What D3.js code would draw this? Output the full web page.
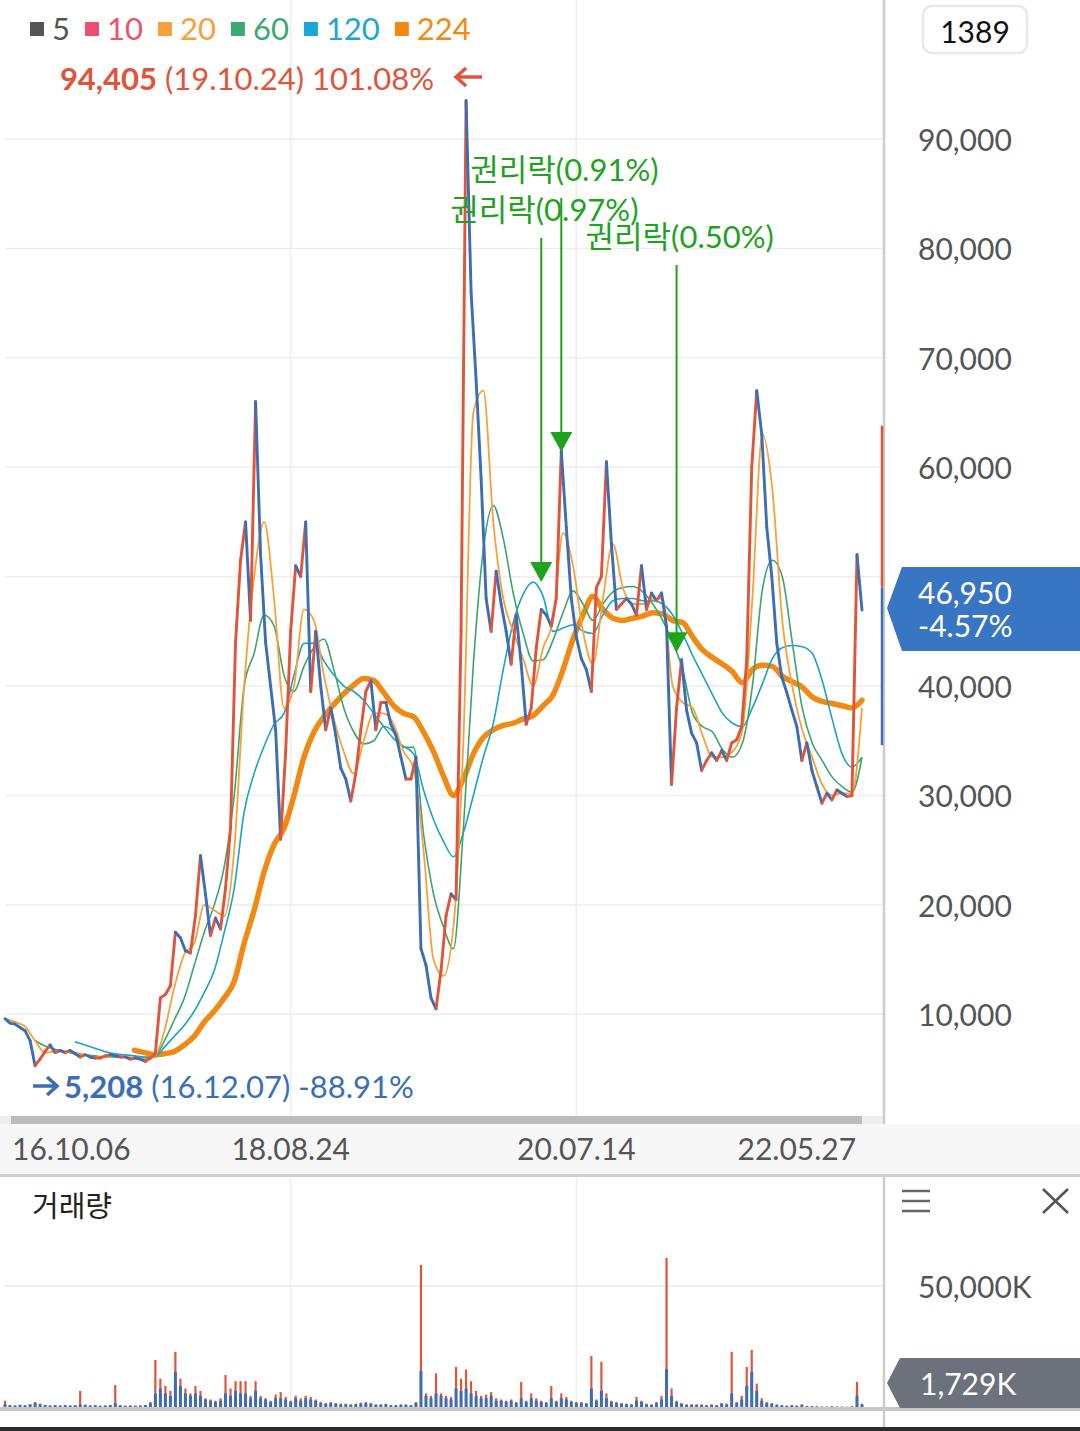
<!DOCTYPE html>
<html><head><meta charset="utf-8">
<script src="https://cdn.jsdelivr.net/npm/d3@7"></script>
<style>
html,body{margin:0;padding:0;background:#fff;}
svg{display:block;font-family:Lato,"Noto Sans CJK KR",sans-serif;}
</style></head><body>
<svg id="c" width="1080" height="1431"></svg>
<script>
// ---------------- DATA ----------------
const price = [
 9600,9200,9100,8800,8500,7600,5300,5900,6600,7200,
 6500,6700,6500,6700,6400,6100,6300,6100,6000,6000,
 6200,6300,6200,6100,6100,5900,6000,5900,5700,6000,
 6400,11500,11800,12600,17500,17000,15800,15600,19000,24500,
 21000,17200,18800,17800,21500,27000,44000,51500,55000,46000,
 66000,52000,44000,40000,36000,26000,34000,45000,51000,50000,
 55000,39500,45000,40000,36000,38000,35500,32500,31500,29500,
 32000,36000,39500,40500,36000,38500,38500,36500,35500,33500,
 31500,31500,33500,16000,14500,11500,10500,14000,19000,21000,
 20500,45000,93500,76000,68000,59000,48000,45000,50500,47500,
 45000,42000,46500,42000,36500,38000,43500,47000,46500,45500,
 48000,61500,54500,48000,44500,42500,41500,39500,49000,50000,
 60500,53000,47000,47500,48000,47500,46500,51000,47000,48500,
 47800,48500,45400,31000,38000,42400,37800,35700,34800,32300,
 33200,33900,33200,34100,33200,34800,35100,36300,42400,60000,
 67000,63000,54500,50000,43900,40800,39400,37800,36300,33200,
 34800,32300,30800,29300,30200,29600,30500,30200,29900,30000,
 52000,46950
];
const volumeK = [
 3000,1200,1000,1300,1100,1500,2500,1800,1200,1000,
 1100,1000,1200,1000,1100,7000,1300,1000,1100,900,
 1000,1200,9400,1100,900,1000,900,1000,1200,2500,
 19700,12000,9000,7000,23000,12000,8000,6000,9000,7000,
 4000,3500,3000,4000,13500,8000,11000,11000,11000,5000,
 11000,5000,4000,3000,5500,6500,4500,3000,5000,4000,
 5000,4500,3500,2500,2000,2500,2000,1800,1800,1500,
 1800,2200,2500,2000,1500,1500,1800,1200,1200,1500,
 1500,1200,2500,58600,6000,5000,14200,6000,5000,4500,
 16800,12000,15800,11000,7000,5000,5500,6500,4000,3500,
 3000,3500,2500,10700,3000,6000,4000,3000,2500,9000,
 3000,6000,4500,3000,2500,2500,2000,21300,3500,18900,
 6000,3000,2500,2000,1800,1500,4500,3000,1800,1500,
 2500,5000,61500,8000,3000,2000,1500,1500,1500,1500,
 1200,1500,1200,2000,1800,23000,2500,5000,16800,23800,
 10000,4000,2500,2000,1500,1200,1000,1200,1000,1500,
 800,800,700,600,600,700,600,600,500,700,
 10700,1729
];
const volumeBlueK = [
 1500,1200,1000,1300,1100,1500,2000,1500,1200,1000,
 1100,1000,1200,1000,1100,1500,1300,1000,1100,900,
 1000,1200,2000,1100,900,1000,900,1000,1200,2000,
 6000,8000,6000,5000,14800,9000,6000,5000,6000,5000,
 3500,3000,2500,3000,6000,5000,7000,6000,6000,4000,
 7000,4000,3500,2500,4000,4000,3500,2500,4000,3000,
 4000,3500,3000,2000,1800,2000,1800,1500,1500,1300,
 1500,1800,2000,1800,1300,1300,1500,1100,1100,1300,
 1300,1100,2000,15200,5000,4000,6000,5000,4000,3500,
 8000,7000,8000,6000,5000,4000,4000,5000,3000,3000,
 2500,3000,2000,4000,2500,4000,3000,2500,2000,4000,
 2500,4000,3500,2500,2000,2000,1800,8000,3000,7000,
 4000,2500,2000,1800,1500,1300,3000,2500,1500,1300,
 2000,3500,16000,5000,2500,1800,1300,1300,1300,1300,
 1100,1300,1100,1800,1500,6000,2000,3500,9000,14800,
 7000,3000,2000,1800,1300,1100,900,1100,900,1300,
 700,700,600,500,500,600,500,500,450,600,
 5000,1500
];
const ma20 = [
 9600,9300,8900,7600,6500,6600,6600,6500,6300,6100,
 6100,6200,6100,6000,5900,6100,8500,12500,15500,16500,
 20000,19500,19000,25000,40000,50000,55000,48000,38000,40000,
 47000,46000,41000,37000,34000,32000,35000,37500,37500,36500,
 34000,32500,25000,15000,13500,18000,35000,65000,67000,55000,
 48000,45000,42500,40000,43500,46000,54000,51000,45000,42000,
 48000,53000,49000,47500,47500,48000,48000,40000,38500,38000,
 35500,33500,33500,34000,36000,48000,63000,58000,46000,40000,
 36000,33500,31000,30000,30200,30200,38000
];
const ma60 = [
 null,null,null,7600,7100,6800,6600,6400,6300,6200,
 6100,6100,6100,6000,6000,6100,7600,9500,11500,14500,
 17500,20000,23500,30000,40000,43000,46500,45500,41000,39500,
 41800,43500,44300,41500,38000,35800,34700,35000,36300,35800,
 34400,34400,26500,21000,18000,16000,27000,42000,52500,56500,
 53500,48500,44800,42300,42400,44200,46700,48700,47500,46000,
 47500,48600,49000,49100,48600,47500,46000,44000,41500,37500,
 36300,35800,34200,33500,34800,40000,48800,51500,50000,44000,
 38000,34800,33200,31700,30800,30300,33500
];
const ma120 = [
 null,null,null,null,null,null,null,7500,7200,6900,
 6600,6400,6300,6200,6100,6100,7000,8000,9000,10300,
 12000,14000,17500,21500,28500,32000,34500,36500,37500,41000,
 43900,43900,42300,41000,40000,39500,38700,37500,36300,35200,
 34500,33800,30500,27800,25800,24400,26600,30000,33500,36600,
 41500,45800,48400,49500,48200,45000,45300,45600,45000,44800,
 46500,47800,48000,48000,47800,47800,47500,46500,44800,42800,
 41000,39200,37500,36600,36300,38000,40200,42500,43500,43700,
 43600,43000,40500,37000,33800,32600,33500
];
const ma224 = [
 null,null,null,null,null,null,null,null,null,null,
 null,null,null,6700,6500,6300,6400,6600,7200,8000,
 9300,10300,11500,13000,16500,19500,23000,25500,27000,30000,
 33500,35800,37200,38300,39300,40100,40700,40500,39400,38200,
 37500,37200,35800,34000,31800,30000,31500,33800,35300,36000,
 36400,36600,37000,37300,38200,39200,41500,44300,46500,48200,
 47000,46200,46000,46200,46400,46700,46600,46000,45800,44500,
 43300,42600,42000,41300,40300,41500,41900,41800,40900,40400,
 39900,39000,38600,38400,38200,38000,38700
];
const yTicks = [10000,20000,30000,40000,50000,60000,70000,80000,90000];
const volTicks = [50000];
const xTickLabels = ["16.10.06","18.08.24","20.07.14","22.05.27"];
const xTickIndex = [0,57,114,158];
const gridTickIndex = [57,114];
const legendLabels = ["5","10","20","60","120","224"];
const legendColors = ["#555555","#ee4f6e","#f6a13a","#3aaa72","#1aa7d3","#f08a12"];
const exRightsLabels = ["권리락(0.91%)","권리락(0.97%)","권리락(0.50%)"];
const exRightsIndex = [111,107,134];
const exRightsValue = [61400,49500,43100];
const maxInfo = {value:"94,405", date:"(19.10.24)", pct:"101.08%", index:92};
const minInfo = {value:"5,208", date:"(16.12.07)", pct:"-88.91%", index:6};
const lastPrice = "46,950", lastPct = "-4.57%", lastVolume = "1,729K";
const lastRange = {high:63800, mid:49000, low:34600};
const pageNo = "1389";

// ---------------- SCALES ----------------
const svg = d3.select("#c");
const plotRight = 884;
const x = d3.scaleLinear().domain([0, price.length-1]).range([5, 862]);
const xm = d3.scaleLinear().domain([0, ma20.length-1]).range([5, 862]);
const y = d3.scaleLinear().domain([0, 90000]).range([1123.7, 139]);
const yv = d3.scaleLinear().domain([0, 50000]).range([1408, 1286]);
const fmt = d3.format(",");
const RED = "#e0553a", BLUE = "#3d6db5";

function txt(g, px, py, s, o={}) {
  return g.append("text").attr("x",px).attr("y",py).text(s)
    .attr("font-size", o.size||30).attr("fill", o.fill||"#555")
    .attr("font-weight", o.weight||400).attr("text-anchor", o.anchor||"start")
    .attr("dominant-baseline", o.base||"auto");
}

// ---------------- BACKGROUND / GRID ----------------
svg.append("rect").attr("width",1080).attr("height",1431).attr("fill","#fff");
const defs = svg.append("defs");
defs.append("clipPath").attr("id","clipPlot").append("rect").attr("x",0).attr("y",0).attr("width",plotRight).attr("height",1116);
defs.append("clipPath").attr("id","clipVol").append("rect").attr("x",0).attr("y",1178).attr("width",plotRight).attr("height",231);

const grid = svg.append("g");
grid.selectAll("line.h").data(yTicks).join("line")
  .attr("x1",5).attr("x2",plotRight).attr("y1",d=>y(d)).attr("y2",d=>y(d))
  .attr("stroke","#ededed").attr("stroke-width",1.5);
grid.selectAll("line.v").data(gridTickIndex).join("line")
  .attr("x1",d=>x(d)).attr("x2",d=>x(d)).attr("y1",0).attr("y2",1116)
  .attr("stroke","#ededed").attr("stroke-width",1.5);
grid.selectAll("line.vv").data(gridTickIndex).join("line")
  .attr("x1",d=>x(d)).attr("x2",d=>x(d)).attr("y1",1178).attr("y2",1408)
  .attr("stroke","#ededed").attr("stroke-width",1.5);
grid.selectAll("line.hv").data(volTicks).join("line")
  .attr("x1",5).attr("x2",plotRight).attr("y1",d=>yv(d)).attr("y2",d=>yv(d))
  .attr("stroke","#ededed").attr("stroke-width",2);

// ---------------- PRICE & MA ----------------
const gp = svg.append("g").attr("clip-path","url(#clipPlot)");
const maLine = sc => d3.line().defined(d=>d!=null).x((d,i)=>sc(i)).y(d=>y(d)).curve(d3.curveMonotoneX);
gp.append("path").datum(ma224).attr("d",maLine(xm)).attr("fill","none").attr("stroke","#f08a12").attr("stroke-width",5.5).attr("stroke-linejoin","round").attr("stroke-linecap","round");
gp.append("path").datum(ma120).attr("d",maLine(xm)).attr("fill","none").attr("stroke","#1ba3c6").attr("stroke-width",1.6);
gp.append("path").datum(ma60).attr("d",maLine(xm)).attr("fill","none").attr("stroke","#3aa66e").attr("stroke-width",1.6);
gp.append("path").datum(ma20).attr("d",maLine(xm)).attr("fill","none").attr("stroke","#f6a13a").attr("stroke-width",1.8);
const segs = d3.pairs(price.map((v,i)=>({i,v})));
gp.selectAll("line.seg").data(segs).join("line")
  .attr("x1",d=>x(d[0].i)).attr("y1",d=>y(d[0].v))
  .attr("x2",d=>x(d[1].i)).attr("y2",d=>y(d[1].v))
  .attr("stroke",d=> d[1].v >= d[0].v ? RED : BLUE)
  .attr("stroke-width",2.9).attr("stroke-linecap","round");

// ---------------- EX-RIGHTS ANNOTATIONS ----------------
const exBase = [181,221,248];
const ge = svg.append("g");
exRightsLabels.forEach((lab,k)=>{
  const ax = x(exRightsIndex[k]);
  const tipY = y(exRightsValue[k]);
  ge.append("line").attr("x1",ax).attr("x2",ax).attr("y1",exBase[k]+17).attr("y2",tipY-18)
    .attr("stroke","#1fa31f").attr("stroke-width",2);
  ge.append("path").attr("d",`M${ax-11},${tipY-20}L${ax+11},${tipY-20}L${ax},${tipY}Z`).attr("fill","#1fa31f");
});
exRightsLabels.forEach((lab,k)=>{
  const ax = x(exRightsIndex[k]);
  txt(ge, ax-91, exBase[k], lab, {fill:"#1fa31f", size:31});
});

// ---------------- SCROLLBAR & AXES ----------------
svg.append("rect").attr("x",0).attr("y",1116).attr("width",plotRight).attr("height",8).attr("fill","#eeeeee");
svg.append("rect").attr("x",11).attr("y",1116).attr("width",862-11).attr("height",8).attr("fill","#bcbcbc");
svg.append("rect").attr("x",0).attr("y",1124).attr("width",1080).attr("height",51).attr("fill","#f7f7f7");
svg.append("rect").attr("x",0).attr("y",1174).attr("width",1080).attr("height",3).attr("fill","#d0d0d0");
svg.append("line").attr("x1",plotRight).attr("x2",plotRight).attr("y1",0).attr("y2",1124).attr("stroke","#cccccc").attr("stroke-width",2.5);
svg.append("line").attr("x1",plotRight).attr("x2",plotRight).attr("y1",1177).attr("y2",1431).attr("stroke","#cccccc").attr("stroke-width",2.5);

const gx = svg.append("g");
xTickLabels.forEach((lab,k)=>{
  const t = txt(gx, 0, 1160, lab, {fill:"#555", size:30});
  const w = t.node().getComputedTextLength();
  let px = x(xTickIndex[k]) - w/2;
  if (px < 12) px = 12;
  t.attr("x", px);
});

const gy = svg.append("g");
yTicks.forEach(v=>{ txt(gy, 918, y(v), fmt(v), {fill:"#555", size:30, base:"central"}); });

svg.append("rect").attr("x",923).attr("y",6).attr("width",104).attr("height",47).attr("rx",9)
  .attr("fill","#fff").attr("stroke","#e9e9e9").attr("stroke-width",2.5);
txt(svg, 975, 31, pageNo, {fill:"#111", size:30, anchor:"middle", base:"central"});

svg.append("line").attr("x1",882).attr("x2",882).attr("y1",y(lastRange.high)).attr("y2",y(lastRange.mid)).attr("stroke",RED).attr("stroke-width",2.5);
svg.append("line").attr("x1",882).attr("x2",882).attr("y1",y(lastRange.mid)).attr("y2",y(lastRange.low)).attr("stroke",BLUE).attr("stroke-width",2.5);

const by = y(price[price.length-1]);
svg.append("path").attr("d",`M887,${by-2}L902,${by-43}L1080,${by-43}L1080,${by+41}L902,${by+41}Z`).attr("fill","#3875c3");
txt(svg, 918, by-6, lastPrice, {fill:"#fff", size:30});
txt(svg, 918, by+27, lastPct, {fill:"#fff", size:30});

// ---------------- LEGEND ----------------
const gl = svg.append("g");
let lx = 30;
legendLabels.forEach((lab,k)=>{
  gl.append("rect").attr("x",lx).attr("y",22).attr("width",14).attr("height",14).attr("fill",legendColors[k]);
  const t = txt(gl, lx+22, 40, lab, {fill:legendColors[k], size:31});
  lx += 22 + t.node().getComputedTextLength() + 15;
});

// ---------------- MAX / MIN ANNOTATIONS ----------------
const peakX = x(maxInfo.index);
const mt = svg.append("text").attr("x",peakX-32).attr("y",90).attr("text-anchor","end").attr("font-size",31).attr("fill",RED);
mt.append("tspan").attr("font-weight",700).text(maxInfo.value);
mt.append("tspan").text(" " + maxInfo.date + " " + maxInfo.pct);
svg.append("path").attr("d",`M${peakX+16},77H${peakX-10}M${peakX},68L${peakX-10},77L${peakX},86`)
  .attr("fill","none").attr("stroke",RED).attr("stroke-width",3.5);

const minX = x(minInfo.index);
svg.append("path").attr("d",`M${minX-2},1086H${minX+22}M${minX+12},1077L${minX+22},1086L${minX+12},1095`)
  .attr("fill","none").attr("stroke","#3a6fb5").attr("stroke-width",3.5);
const nt = svg.append("text").attr("x",minX+29).attr("y",1098).attr("font-size",31).attr("fill","#3a6fb5");
nt.append("tspan").attr("font-weight",700).text(minInfo.value);
nt.append("tspan").text(" " + minInfo.date + " " + minInfo.pct);

// ---------------- VOLUME ----------------
const gv = svg.append("g").attr("clip-path","url(#clipVol)");
gv.selectAll("line.r").data(volumeK).join("line").attr("class","r")
  .attr("x1",(d,i)=>x(i)).attr("x2",(d,i)=>x(i))
  .attr("y1",yv(0)).attr("y2",d=>yv(d))
  .attr("stroke",RED).attr("stroke-width",2.2);
gv.selectAll("line.b").data(volumeBlueK).join("line").attr("class","b")
  .attr("x1",(d,i)=>x(i)).attr("x2",(d,i)=>x(i))
  .attr("y1",yv(0)).attr("y2",d=>yv(d))
  .attr("stroke",BLUE).attr("stroke-width",3);
svg.append("rect").attr("x",0).attr("y",1407).attr("width",1080).attr("height",4).attr("fill","#c8c8c8");
svg.append("rect").attr("x",0).attr("y",1427).attr("width",1080).attr("height",4).attr("fill","#2b2b2b");
txt(svg, 32, 1217, "거래량", {fill:"#222", size:29});
volTicks.forEach(v=>{ txt(svg, 918, yv(v), fmt(v)+"K", {fill:"#555", size:30, base:"central"}); });
[1191,1201,1211].forEach(yy=> svg.append("line").attr("x1",902).attr("x2",930).attr("y1",yy).attr("y2",yy).attr("stroke","#666").attr("stroke-width",2.5));
svg.append("path").attr("d","M1043,1189L1068,1213M1068,1189L1043,1213").attr("stroke","#555").attr("stroke-width",2.5);
const vy = 1383;
svg.append("path").attr("d",`M887,${vy}L900,${vy-25}L1080,${vy-25}L1080,${vy+25}L900,${vy+25}Z`).attr("fill","#6b727c");
txt(svg, 920, vy, lastVolume, {fill:"#fff", size:30, base:"central"});
</script>
</body></html>
